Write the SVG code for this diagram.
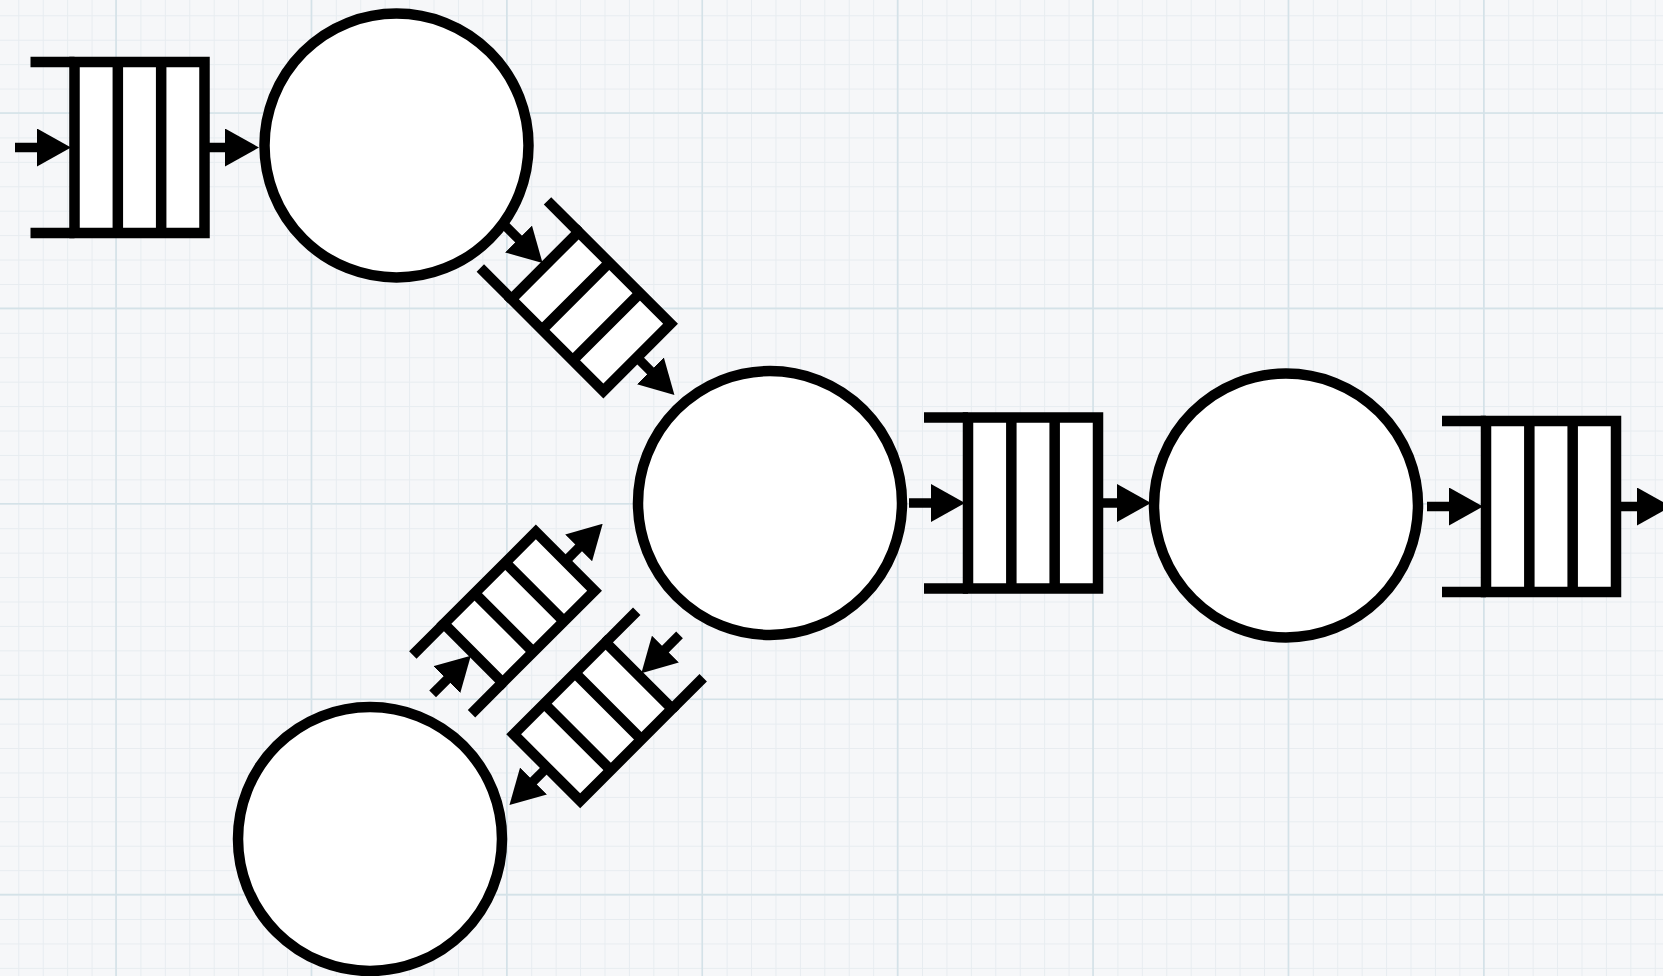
<svg xmlns="http://www.w3.org/2000/svg" width="1663" height="976" viewBox="0 0 1663 976">
<style>
.q{fill:#fff;stroke:#000;stroke-width:10.5}
.l{fill:none;stroke:#000;stroke-width:10.5;stroke-linecap:butt}
.c{fill:#fff;stroke:#000;stroke-width:10.5}
.a{fill:none;stroke:#000;stroke-width:9.5;marker-end:url(#ah)}
.mj{fill:none;stroke:#d4e2e8;stroke-width:1.6}
</style>
<defs>
<pattern id="minor" patternUnits="userSpaceOnUse" x="116" y="113" width="24.425" height="24.425">
<path d="M0.5,0 V24.425 M0,0.5 H24.425" fill="none" stroke="#e7ecf0" stroke-width="1"/>
</pattern>
<marker id="ah" markerUnits="userSpaceOnUse" markerWidth="34" markerHeight="38" refX="13" refY="19" orient="auto" viewBox="0 0 34 38">
<path d="M0,0 L34,19 L0,38 Z" fill="#000"/>
</marker>
</defs>
<g id="background">
<rect x="0" y="0" width="1663" height="976" fill="#f6f7f9"/>
<rect x="0" y="0" width="1663" height="976" fill="url(#minor)"/>
<path class="mj" d="M116,0 V976 M311.4,0 V976 M506.8,0 V976 M702.2,0 V976 M897.6,0 V976 M1093,0 V976 M1288.4,0 V976 M1483.8,0 V976 M0,113 H1663 M0,308.4 H1663 M0,503.8 H1663 M0,699.2 H1663 M0,894.6 H1663"/>
</g>
<g id="node-circle1"><circle class="c" cx="396.5" cy="145.5" r="132"/></g>
<g id="node-circle2"><circle class="c" cx="770" cy="503" r="132"/></g>
<g id="node-circle3"><circle class="c" cx="1286" cy="505.5" r="132"/></g>
<g id="node-circle4"><circle class="c" cx="370" cy="839" r="132"/></g>
<g id="node-queue1" transform="translate(139.5 147.5)">
<rect class="q" x="-65" y="-85.5" width="130" height="171"/>
<path class="l" d="M-21.67,-85.5 V85.5 M21.67,-85.5 V85.5 M-109,-85.5 H-65 M-109,85.5 H-65"/>
</g>
<g id="node-queue2" transform="translate(1033 503)">
<rect class="q" x="-65" y="-85.5" width="130" height="171"/>
<path class="l" d="M-21.67,-85.5 V85.5 M21.67,-85.5 V85.5 M-109,-85.5 H-65 M-109,85.5 H-65"/>
</g>
<g id="node-queue3" transform="translate(1551 506.5)">
<rect class="q" x="-65" y="-85.5" width="130" height="171"/>
<path class="l" d="M-21.67,-85.5 V85.5 M21.67,-85.5 V85.5 M-109,-85.5 H-65 M-109,85.5 H-65"/>
</g>
<g id="node-queue4" transform="translate(591 311.5) rotate(45)">
<rect class="q" x="-65" y="-47.5" width="130" height="95"/>
<path class="l" d="M-21.67,-47.5 V47.5 M21.67,-47.5 V47.5 M-109,-47.5 H-65 M-109,47.5 H-65"/>
</g>
<g id="node-queue5" transform="translate(519.25 607.25) rotate(-45)">
<rect class="q" x="-65" y="-41.5" width="130" height="83"/>
<path class="l" d="M-21.67,-41.5 V41.5 M21.67,-41.5 V41.5 M-109,-41.5 H-65 M-109,41.5 H-65"/>
</g>
<g id="node-queue6" transform="translate(592.9 721.6) rotate(135)">
<rect class="q" x="-65" y="-47" width="130" height="94"/>
<path class="l" d="M-21.67,-47 V47 M21.67,-47 V47 M-109,-47 H-65 M-109,47 H-65"/>
</g>
<g id="connectors">
<line class="a" x1="15" y1="147.5" x2="50" y2="147.5"/>
<line class="a" x1="204" y1="147.5" x2="238" y2="147.5"/>
<line class="a" x1="909" y1="503" x2="944" y2="503"/>
<line class="a" x1="1098" y1="503" x2="1130" y2="503"/>
<line class="a" x1="1427" y1="506.5" x2="1462" y2="506.5"/>
<line class="a" x1="1616" y1="506.5" x2="1650" y2="506.5"/>
<g transform="translate(591 311.5) rotate(45)">
<line class="a" x1="-122.5" y1="0" x2="-89.5" y2="0"/>
<line class="a" x1="65" y1="0" x2="97" y2="0"/>
</g>
<g transform="translate(519.25 607.25) rotate(-45)">
<line class="a" x1="-122.5" y1="0" x2="-89.5" y2="0"/>
<line class="a" x1="65" y1="0" x2="97" y2="0"/>
</g>
<g transform="translate(592.9 721.6) rotate(135)">
<line class="a" x1="-122.5" y1="0" x2="-89.5" y2="0"/>
<line class="a" x1="65" y1="0" x2="97" y2="0"/>
</g>
</g>
</svg>
